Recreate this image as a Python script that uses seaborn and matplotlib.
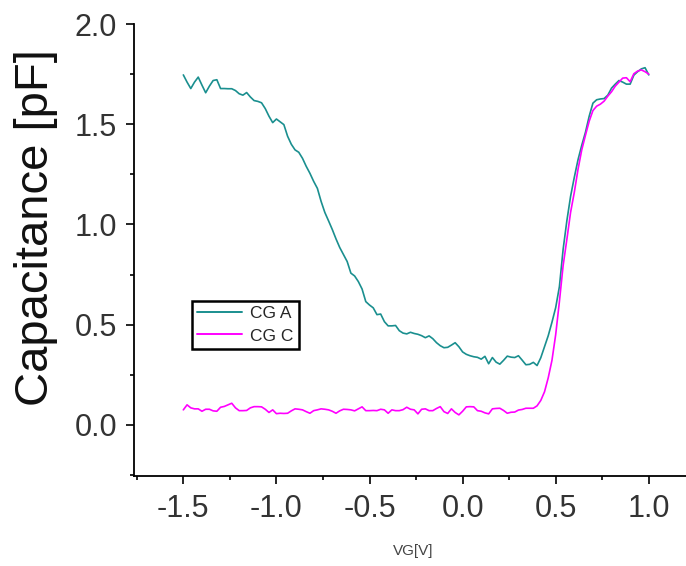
import numpy as np
import pandas as pd
import matplotlib
matplotlib.use("Agg")
import matplotlib.pyplot as plt
import seaborn as sns
from matplotlib.ticker import MultipleLocator

# gate voltage sweep, 20 mV step
vg = np.round(np.linspace(-1.5, 1.0, 126), 2)

# CG A (teal)
cga = [
    1.746, 1.710, 1.678, 1.710, 1.735, 1.695, 1.657, 1.690, 1.718, 1.722,
    1.678, 1.678, 1.677, 1.677, 1.668, 1.652, 1.645, 1.658, 1.636, 1.618,
    1.614, 1.607, 1.578, 1.540, 1.508, 1.526, 1.512, 1.498, 1.440, 1.400,
    1.372, 1.360, 1.330, 1.290, 1.255, 1.215, 1.180, 1.115, 1.060, 1.018,
    0.975, 0.928, 0.885, 0.850, 0.815, 0.757, 0.743, 0.715, 0.678, 0.615,
    0.598, 0.584, 0.550, 0.553, 0.515, 0.494, 0.494, 0.496, 0.470, 0.458,
    0.454, 0.462, 0.456, 0.452, 0.445, 0.435, 0.444, 0.430, 0.410, 0.395,
    0.385, 0.387, 0.398, 0.410, 0.390, 0.364, 0.352, 0.345, 0.340, 0.337,
    0.328, 0.342, 0.305, 0.336, 0.313, 0.303, 0.322, 0.343, 0.338, 0.336,
    0.345, 0.323, 0.300, 0.302, 0.312, 0.296, 0.335, 0.390, 0.445, 0.512,
    0.585, 0.690, 0.876, 1.018, 1.140, 1.235, 1.323, 1.395, 1.460, 1.540,
    1.605, 1.622, 1.626, 1.628, 1.645, 1.680, 1.700, 1.718, 1.710, 1.700,
    1.700, 1.745, 1.762, 1.776, 1.782, 1.746,
]

# CG C (magenta)
cgc = [
    0.075, 0.100, 0.085, 0.080, 0.080, 0.068, 0.078, 0.078, 0.070, 0.068,
    0.088, 0.092, 0.100, 0.108, 0.085, 0.071, 0.071, 0.072, 0.085, 0.091,
    0.091, 0.090, 0.078, 0.062, 0.075, 0.056, 0.058, 0.057, 0.058, 0.070,
    0.080, 0.078, 0.075, 0.066, 0.058, 0.071, 0.075, 0.080, 0.078, 0.075,
    0.068, 0.058, 0.070, 0.078, 0.077, 0.075, 0.070, 0.080, 0.090, 0.071,
    0.071, 0.072, 0.071, 0.078, 0.075, 0.058, 0.075, 0.071, 0.071, 0.076,
    0.088, 0.078, 0.075, 0.055, 0.078, 0.080, 0.071, 0.071, 0.082, 0.091,
    0.066, 0.057, 0.080, 0.062, 0.050, 0.068, 0.090, 0.091, 0.090, 0.071,
    0.068, 0.060, 0.055, 0.080, 0.082, 0.083, 0.072, 0.058, 0.063, 0.064,
    0.074, 0.077, 0.083, 0.083, 0.083, 0.095, 0.122, 0.165, 0.235, 0.322,
    0.450, 0.615, 0.795, 0.925, 1.060, 1.160, 1.275, 1.372, 1.445, 1.515,
    1.568, 1.590, 1.600, 1.615, 1.640, 1.662, 1.690, 1.710, 1.730, 1.732,
    1.712, 1.752, 1.765, 1.771, 1.762, 1.750,
]

xticks = [-1.5, -1.0, -0.5, 0.0, 0.5, 1.0]
yticks = [0.0, 0.5, 1.0, 1.5, 2.0]

sns.set_style("ticks")
plt.rcParams["font.family"] = ["Liberation Sans", "DejaVu Sans"]
plt.rcParams["axes.unicode_minus"] = False

fig = plt.figure(figsize=(6.86, 5.66), dpi=100)
ax = fig.add_axes([134 / 686, 90 / 566, 552 / 686, 452 / 566])

sns.lineplot(x=vg, y=cga, color="#1a8f8f", lw=1.2, label="CG A", ax=ax, estimator=None)
sns.lineplot(x=vg, y=cgc, color="#ff00ff", lw=1.2, label="CG C", ax=ax, estimator=None)

ax.set_xlim(-1.765, 1.20)
ax.set_ylim(-0.255, 2.0)
ax.set_xticks(xticks)
ax.set_yticks(yticks)
ax.xaxis.set_minor_locator(MultipleLocator(0.25))
ax.yaxis.set_minor_locator(MultipleLocator(0.25))
ax.set_xticklabels([f"{v:.1f}" for v in xticks])
ax.set_yticklabels([f"{v:.1f}" for v in yticks])

sns.despine(ax=ax)
for s in ["left", "bottom"]:
    ax.spines[s].set_linewidth(1.3)
    ax.spines[s].set_color("black")
ax.tick_params(which="major", direction="out", length=6, width=1.2,
               labelsize=22, labelcolor="#333333", color="black", pad=6)
ax.tick_params(which="minor", direction="out", length=3, width=1.2, color="black")
ax.tick_params(axis="x", which="major", pad=7)

ax.set_xlabel("")
ax.set_ylabel("")
fig.text(36 / 686, 1 - 228 / 566, "Capacitance [pF]", rotation=90,
         ha="center", va="center", fontsize=34, color="#111111")
fig.text(413 / 686, 1 - 551 / 566, "VG[V]", ha="center", va="center",
         fontsize=11, color="#444444")

leg = ax.legend(loc="upper left", bbox_to_anchor=(0.105, 0.387), borderaxespad=0,
                fontsize=12.5, handlelength=2.6, labelspacing=0.4, borderpad=0.3,
                handletextpad=0.45, fancybox=False, frameon=True)
leg.get_frame().set_edgecolor("black")
leg.get_frame().set_linewidth(1.8)
leg.get_frame().set_alpha(1)
for line in leg.get_lines():
    line.set_linewidth(1.4)

fig.savefig("out.png", dpi=100)
